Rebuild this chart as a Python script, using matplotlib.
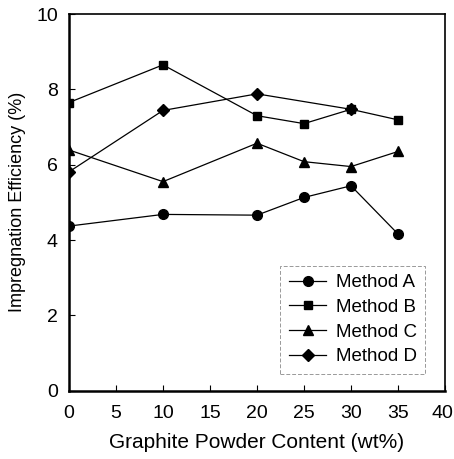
import matplotlib
matplotlib.use('Agg')
import matplotlib.pyplot as plt
import matplotlib.transforms as mtransforms
import numpy as np

plt.rcParams['font.family'] = ['Liberation Sans', 'DejaVu Sans']

# graphite content (wt%) and efficiencies
x_full = [0, 10, 20, 25, 30, 35]
x_d = [0, 10, 20, 30]
method_a = [4.37, 4.68, 4.66, 5.13, 5.44, 4.16]
method_b = [7.65, 8.65, 7.30, 7.09, 7.47, 7.19]
method_c = [6.39, 5.55, 6.57, 6.08, 5.95, 6.35]
method_d = [5.81, 7.44, 7.88, 7.47]

fig = plt.figure(figsize=(4.54, 4.59), dpi=100)
ax = fig.add_axes([69 / 454, 1 - 390.7 / 459, 376 / 454, 376.7 / 459])

kw = dict(color='k', lw=0.9, ms=7)
ax.plot(x_full, method_a, marker='o', label='Method A', **kw)
ax.plot(x_full, method_b, marker='s', label='Method B', **dict(kw, ms=6.3))
ax.plot(x_full, method_c, marker='^', label='Method C', **kw)
ax.plot(x_d, method_d, marker='D', label='Method D', **dict(kw, ms=6))

ax.set_xlim(0, 40)
ax.set_ylim(0, 10)
ax.set_xticks(np.arange(0, 41, 5))
ax.set_yticks(np.arange(0, 11, 2))
ax.tick_params(direction='in', length=4, width=0.8, labelsize=14)
ax.tick_params(axis='x', pad=10)
ax.tick_params(axis='y', pad=8)
for side in ['left', 'bottom']:
    ax.spines[side].set_linewidth(1.8)
for side in ['top', 'right']:
    ax.spines[side].set_linewidth(1.2)

# keep the last x tick label inside the canvas
fig.canvas.draw()
last = ax.get_xticklabels()[-1]
last.set_transform(last.get_transform() +
                   mtransforms.ScaledTranslation(-3 / 100, 0, fig.dpi_scale_trans))

ax.set_xlabel('Graphite Powder Content (wt%)', fontsize=15, labelpad=8)
ax.set_ylabel('Impregnation Efficiency (%)', fontsize=13, labelpad=7)

leg = ax.legend(loc='lower right', bbox_to_anchor=(0.947, 0.045), fontsize=13.5,
                frameon=True, fancybox=False, edgecolor='0.5',
                handlelength=2.0, handletextpad=0.5, borderpad=0.45,
                labelspacing=0.4, borderaxespad=0)
leg.get_frame().set_linewidth(0.7)
leg.get_frame().set_linestyle((0, (4, 2)))

fig.savefig('out.png', dpi=100)
